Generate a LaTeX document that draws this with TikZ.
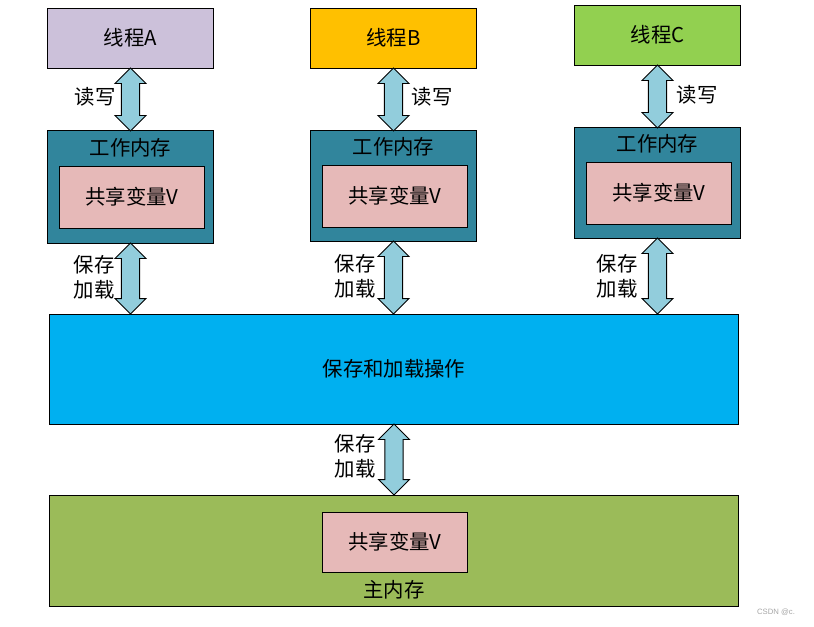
\documentclass[tikz,border=0pt]{standalone}
\usepackage{fontspec}
\setmainfont{Noto Sans CJK SC}
\newfontfamily\wmfont{Liberation Sans}
\usetikzlibrary{shapes.arrows,calc}
\definecolor{thr_purple}{RGB}{204, 193, 218}
\definecolor{thr_gold}{RGB}{255, 192, 0}
\definecolor{thr_green}{RGB}{146, 208, 80}
\definecolor{wm_teal}{RGB}{49, 133, 156}
\definecolor{var_pink}{RGB}{230, 185, 184}
\definecolor{rw_blue}{RGB}{146, 205, 220}
\definecolor{op_blue}{RGB}{0, 176, 240}
\definecolor{mm_olive}{RGB}{155, 187, 89}
\tikzstyle{thr}=[rectangle,draw=black,line width=0.7pt,inner sep=0pt,
  minimum width=4.125cm,minimum height=1.5cm]
\tikzstyle{wm}=[rectangle,fill=wm_teal,draw=black,line width=0.7pt,
  inner sep=0pt,minimum width=4.125cm]
\tikzstyle{var}=[rectangle,fill=var_pink,draw=black,line width=0.7pt,
  inner sep=0pt,minimum width=3.6cm,minimum height=1.55cm]
\tikzstyle{big}=[rectangle,draw=black,line width=0.7pt,inner sep=0pt,
  minimum width=17.2cm]
\tikzstyle{rw}=[double arrow,rotate=90,fill=rw_blue,draw=black,
  line width=0.7pt,inner xsep=0pt,inner ysep=0.215cm,minimum width=0.775cm,
  double arrow head extend=0.16cm]
\tikzstyle{none}=[]
\begin{document}
\begin{tikzpicture}[x=0.025cm, y=-0.025cm,
    every node/.style={font=\fontsize{14.5}{18}\selectfont}]
            \useasboundingbox (0, 0) rectangle (814, 626);
            \node [style=thr, fill=thr_purple] (0) at (130.5, 38) {线程A};
            \node [style=thr, fill=thr_gold] (1) at (393.5, 38) {线程B};
            \node [style=thr, fill=thr_green] (2) at (657.5, 35) {线程C};
            \node [style=wm, minimum height=2.8cm] (3) at (130.5, 187) {};
            \node [style=wm, minimum height=2.75cm] (4) at (393.5, 186) {};
            \node [style=wm, minimum height=2.75cm] (5) at (657.5, 183) {};
            \node [style=none] (6) at (130.5, 148) {工作内存};
            \node [style=none] (7) at (393.5, 147) {工作内存};
            \node [style=none] (8) at (657.5, 144) {工作内存};
            \node [style=var] (9) at (132, 197) {共享变量V};
            \node [style=var] (10) at (395, 196) {共享变量V};
            \node [style=var] (11) at (659, 193) {共享变量V};
            \node [style=big, fill=op_blue, minimum height=2.75cm] (12) at (394, 369) {保存和加载操作};
            \node [style=big, fill=mm_olive, minimum height=2.775cm] (13) at (394, 550.5) {};
            \node [style=var, minimum height=1.5cm] (14) at (395, 542) {共享变量V};
            \node [style=none] (15) at (394, 590) {主内存};
            \node [style=rw, minimum height=1.575cm] (16) at ($(0.south)!0.5!(3.north)$) {};
            \node [style=rw, minimum height=1.575cm] (17) at ($(1.south)!0.5!(4.north)$) {};
            \node [style=rw, minimum height=1.575cm] (18) at ($(2.south)!0.5!(5.north)$) {};
            \node [style=rw, minimum height=1.775cm] (19) at ($(3.south)!0.5!(3.south|-12.north)$) {};
            \node [style=rw, minimum height=1.825cm] (20) at ($(4.south)!0.5!(4.south|-12.north)$) {};
            \node [style=rw, minimum height=1.9cm] (21) at ($(5.south)!0.5!(5.south|-12.north)$) {};
            \node [style=rw, minimum height=1.775cm] (22) at ($(12.south)!0.5!(13.north)$) {};
            \node [style=none] (23) at (95, 97) {读写};
            \node [style=none] (24) at (432, 97) {读写};
            \node [style=none] (25) at (697, 95) {读写};
            \node [style=none, align=center] (26) at (94, 277) {保存\\加载};
            \node [style=none, align=center] (27) at (355, 276) {保存\\加载};
            \node [style=none, align=center] (28) at (617, 276) {保存\\加载};
            \node [style=none, align=center] (29) at (355, 456) {保存\\加载};
            \node [style=none, font=\wmfont\fontsize{5.5}{6}\selectfont, text=gray!70] (30) at (776, 612) {CSDN @c.};
    \end{tikzpicture}
\end{document}
